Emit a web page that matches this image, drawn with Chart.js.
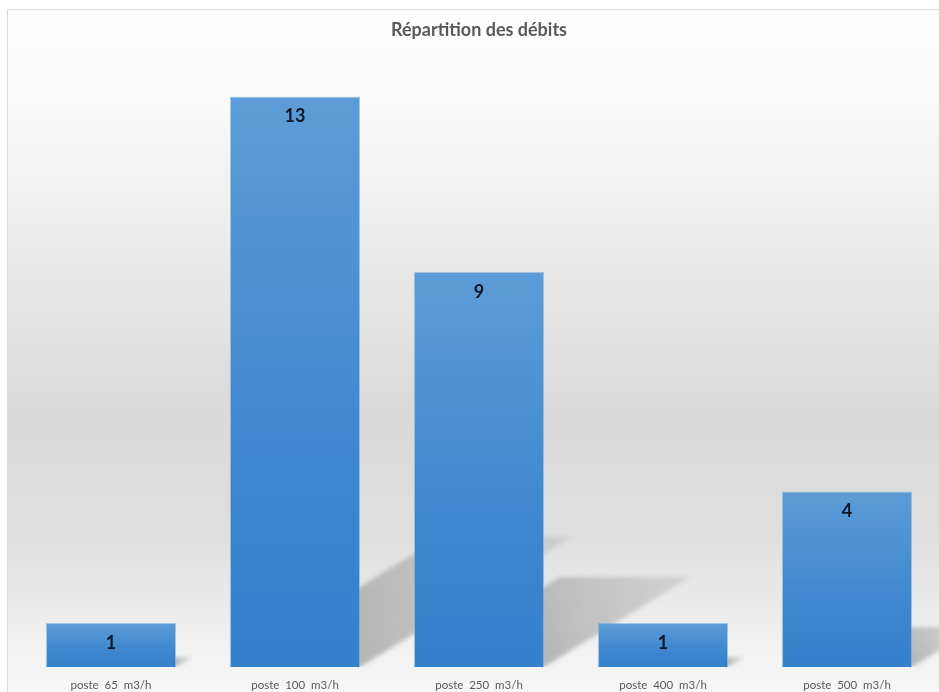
<!DOCTYPE html>
<html lang="fr">
<head>
<meta charset="utf-8">
<title>Répartition des débits</title>
<script src="https://cdn.jsdelivr.net/npm/chart.js@4.4.1/dist/chart.umd.min.js"></script>
<style>
  html, body { margin: 0; padding: 0; background: #ffffff; overflow: hidden; }
  #wrap { position: relative; width: 939px; height: 692px; }
</style>
</head>
<body>
<div id="wrap"><canvas id="chart" width="939" height="692"></canvas></div>
<script>
// Data
const categories = ['poste  65  m3/h', 'poste  100  m3/h', 'poste  250  m3/h', 'poste  400  m3/h', 'poste  500  m3/h'];
const values = [1, 13, 9, 1, 4];
const chartTitle = 'Répartition des débits';

const FONT = "Lato, 'Open Sans', 'Noto Sans', sans-serif";

// Gradient background + thin frame, like the spreadsheet chart
const backgroundPlugin = {
    id: 'background',
    beforeDraw(chart) {
        const ctx = chart.ctx;
        const x0 = 7, y0 = 9;
        const w = chart.width, h = chart.height;
        ctx.save();
        const g = ctx.createLinearGradient(0, y0, 0, h);
        g.addColorStop(0, '#ffffff');
        g.addColorStop(0.12, '#fbfbfb');
        g.addColorStop(0.38, '#e9e9e9');
        g.addColorStop(0.6, '#d9d9d9');
        g.addColorStop(0.78, '#e0e0e0');
        g.addColorStop(0.92, '#f0f0f0');
        g.addColorStop(1, '#f7f7f7');
        ctx.fillStyle = g;
        ctx.fillRect(x0, y0, w - x0, h - y0);
        ctx.strokeStyle = '#d9d9d9';
        ctx.lineWidth = 1;
        ctx.beginPath();
        ctx.moveTo(x0 + 0.5, h);
        ctx.lineTo(x0 + 0.5, y0 + 0.5);
        ctx.lineTo(w, y0 + 0.5);
        ctx.stroke();
        ctx.restore();
    }
};

// Slanted floor shadows behind each bar
const shadowPlugin = {
    id: 'barShadows',
    beforeDatasetsDraw(chart) {
        const ctx = chart.ctx;
        const meta = chart.getDatasetMeta(0);
        const area = chart.chartArea;
        ctx.save();
        ctx.beginPath();
        ctx.rect(area.left, area.top, chart.width - area.left, area.bottom - area.top);
        ctx.clip();
        ctx.filter = 'blur(2px)';
        meta.data.forEach(bar => {
            const left = bar.x - bar.width / 2;
            const right = bar.x + bar.width / 2;
            const bottom = bar.base;
            const hgt = bottom - bar.y;
            const dx = hgt * 0.37, dy = hgt * 0.228;
            const g = ctx.createLinearGradient(right, bottom, right + dx, bottom - dy);
            g.addColorStop(0, 'rgba(140,140,140,0.6)');
            g.addColorStop(1, 'rgba(165,165,165,0.3)');
            ctx.fillStyle = g;
            ctx.beginPath();
            ctx.moveTo(left, bottom);
            ctx.lineTo(right, bottom);
            ctx.lineTo(right + dx, bottom - dy);
            ctx.lineTo(left + dx, bottom - dy);
            ctx.closePath();
            ctx.fill();
        });
        ctx.restore();
    }
};

// Value labels inside the top of each bar
const labelPlugin = {
    id: 'valueLabels',
    afterDatasetsDraw(chart) {
        const ctx = chart.ctx;
        const meta = chart.getDatasetMeta(0);
        ctx.save();
        ctx.font = 'bold 18px ' + FONT;
        ctx.fillStyle = '#0f1626';
        ctx.textAlign = 'center';
        ctx.textBaseline = 'middle';
        meta.data.forEach((bar, i) => {
            ctx.fillText(String(values[i]), bar.x, bar.y + 20);
        });
        ctx.restore();
    }
};

function barFill(context) {
    const chart = context.chart;
    if (!chart.chartArea) return '#4a8fd2';
    const yScale = chart.scales.y;
    const top = yScale.getPixelForValue(values[context.dataIndex]);
    const bottom = yScale.getPixelForValue(0);
    const g = chart.ctx.createLinearGradient(0, top, 0, bottom);
    g.addColorStop(0, '#5d9cd6');
    g.addColorStop(0.6, '#3f88cf');
    g.addColorStop(1, '#3480cb');
    return g;
}

const ctx = document.getElementById('chart').getContext('2d');
new Chart(ctx, {
    type: 'bar',
    data: {
        labels: categories,
        datasets: [{
            data: values,
            backgroundColor: barFill,
            borderColor: 'rgba(110,165,220,0.6)',
            borderWidth: 1,
            categoryPercentage: 1,
            barPercentage: 0.707
        }]
    },
    options: {
        responsive: false,
        animation: false,
        layout: { padding: { left: 19, right: 0, top: 0, bottom: 0 } },
        plugins: {
            legend: { display: false },
            tooltip: { enabled: false },
            title: {
                display: true,
                text: chartTitle,
                color: '#595959',
                font: { family: FONT, size: 18, weight: 'bold' },
                padding: { top: 19, bottom: 56 }
            }
        },
        scales: {
            x: {
                grid: { display: false, drawTicks: false, tickLength: 0 },
                border: { display: false },
                ticks: {
                    color: '#595959',
                    font: { family: FONT, size: 11.5 },
                    padding: 11,
                    maxRotation: 0,
                    autoSkip: false
                },
                afterFit(scale) {
                    scale.height = 25;
                }
            },
            y: {
                display: false,
                min: 0,
                max: 13
            }
        }
    },
    plugins: [backgroundPlugin, shadowPlugin, labelPlugin]
});
</script>
</body>
</html>
